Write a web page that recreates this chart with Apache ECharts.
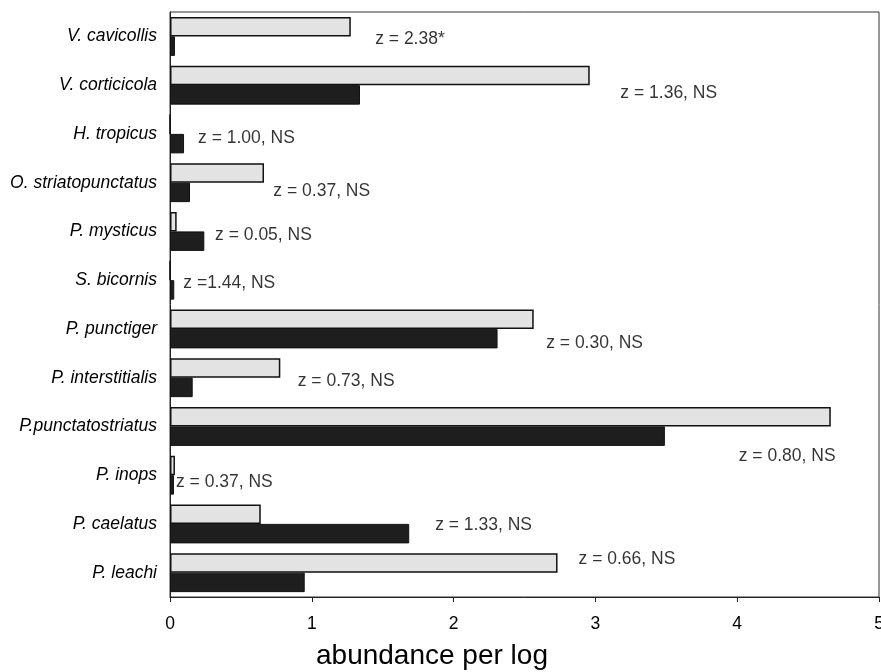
<!DOCTYPE html>
<html>
<head>
<meta charset="utf-8">
<script src="https://cdn.jsdelivr.net/npm/echarts@6/dist/echarts.min.js"></script>
<style>html,body{margin:0;padding:0;background:#fff;}#c{width:881px;height:672px;}</style>
</head>
<body>
<div id="c"></div>
<script>
const categories = ['V. cavicollis','V. corticicola','H. tropicus','O. striatopunctatus','P. mysticus','S. bicornis','P. punctiger','P. interstitialis','P.punctatostriatus','P. inops','P. caelatus','P. leachi'];
const lightValues = [1.275, 2.96, 0, 0.663, 0.047, 0, 2.565, 0.778, 4.66, 0.035, 0.64, 2.733];
const darkValues  = [0.035, 1.34, 0.099, 0.141, 0.242, 0.03, 2.31, 0.16, 3.49, 0.028, 1.687, 0.95];
const zTexts = ['z = 2.38*','z = 1.36, NS','z = 1.00, NS','z = 0.37, NS','z = 0.05, NS','z =1.44, NS','z = 0.30, NS','z = 0.73, NS','z = 0.80, NS','z = 0.37, NS','z = 1.33, NS','z = 0.66, NS'];
const zX = [1.447, 3.176, 0.198, 0.729, 0.318, 0.094, 2.653, 0.901, 4.011, 0.042, 1.870, 2.881];
const zY = [0.06, 1.16, 2.09, 3.18, 4.08, 5.06, 6.29, 7.08, 8.61, 9.14, 10.02, 10.73];
const xTicks = [0, 1, 2, 3, 4, 5];

const chart = echarts.init(document.getElementById('c'));
const font = 'Liberation Sans, Arial, Helvetica, sans-serif';
chart.setOption({
  animation: false,
  backgroundColor: '#fff',
  title: {
    text: 'abundance per log',
    left: 311, top: 637,
    textStyle: { fontFamily: font, fontSize: 28, fontWeight: 'normal', color: '#000' }
  },
  grid: { left: 170, right: 2, top: 12, bottom: 75, show: true, borderColor: '#333', borderWidth: 1, backgroundColor: 'transparent', containLabel: false, outerBoundsMode: 'none' },
  xAxis: {
    type: 'value', min: xTicks[0], max: xTicks[xTicks.length - 1], interval: 1,
    splitLine: { show: false },
    axisLine: { show: true, onZero: false, lineStyle: { color: '#222', width: 1 } },
    axisTick: { show: true, length: 5, lineStyle: { color: '#222' } },
    axisLabel: { fontFamily: font, fontSize: 17.5, color: '#000', margin: 18 }
  },
  yAxis: [{
    type: 'category', data: categories, inverse: true,
    axisLine: { show: true, lineStyle: { color: '#222', width: 1 } },
    axisTick: { show: false },
    axisLabel: { fontFamily: font, fontSize: 17.5, fontStyle: 'italic', color: '#000', margin: 13 }
  }, {
    type: 'value', min: -0.5, max: 11.5, inverse: true, show: false
  }],
  series: [{
    type: 'bar', data: lightValues, barCategoryGap: '20%', barGap: '0%',
    itemStyle: { color: '#e3e3e3', borderColor: '#111', borderWidth: 1.5 }
  }, {
    type: 'bar', data: darkValues,
    itemStyle: { color: '#1e1e1e', borderColor: '#111', borderWidth: 1 }
  }, {
    type: 'scatter', yAxisIndex: 1, symbolSize: 0, silent: true,
    data: zX.map((x, i) => [x, zY[i]]),
    label: {
      show: true, position: 'right', distance: 0,
      formatter: p => zTexts[p.dataIndex],
      fontFamily: font, fontSize: 17.5, color: '#000'
    }
  }]
});
</script>
</body>
</html>
